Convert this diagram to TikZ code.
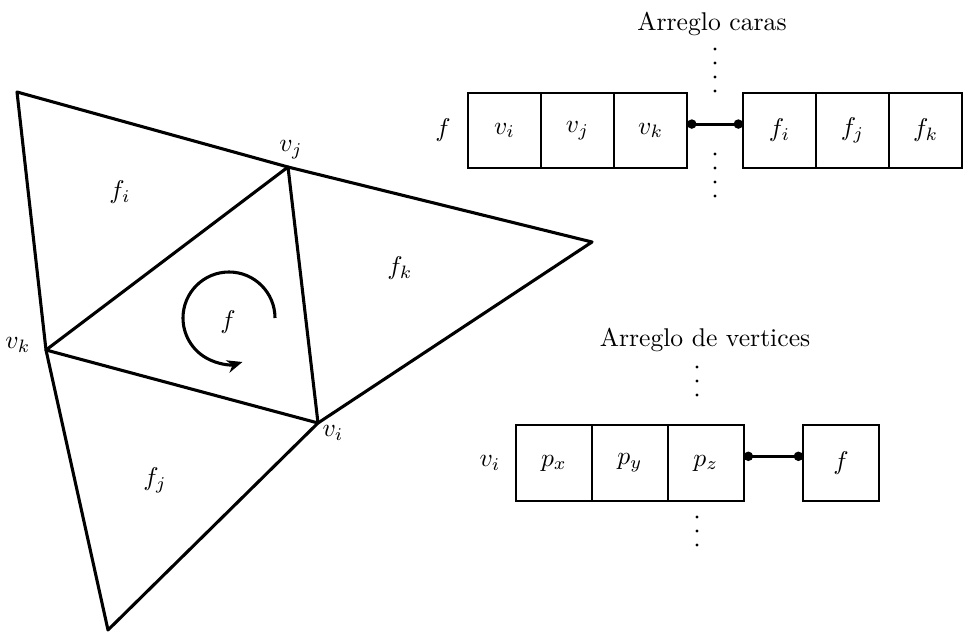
\documentclass[tikz,border=0pt]{standalone}
\usepackage{amsmath}
\usetikzlibrary{positioning,calc,arrows.meta}

\begin{document}
\begin{tikzpicture}[x=0.39pt,y=-0.39pt]
\tikzset{
  edge/.style={draw=black, line width=1.2pt, line join=round},
  cell/.style={draw=black, line width=0.8pt, minimum width=29.6pt, minimum height=29.6pt, inner sep=0pt, outer sep=0pt},
  fcell/.style={cell, minimum width=28.5pt, minimum height=29.3pt},
  link/.style={draw=black, line width=1.2pt, {Circle[length=3.6pt]}-{Circle[length=3.6pt]}},
  dots/.style={draw=black, line width=1.2pt, line cap=round, dash pattern=on 0pt off 5.46pt},
  turn/.style={draw=black, line width=1.2pt, -{Stealth[length=6pt,width=5pt]}}
}
\useasboundingbox (0,0) rectangle (976,637);

% mesh around face f
\coordinate (va) at (17,92);
\coordinate (vj) at (288,167);
\coordinate (vt) at (592,242);
\coordinate (vk) at (46,350);
\coordinate (vi) at (318,423);
\coordinate (vb) at (108,630);
\draw[edge] (va) -- (vj) -- (vt) -- (vi) -- (vb) -- (vk) -- cycle;
\draw[edge] (vk) -- (vj) -- (vi) -- cycle;

\node (lj) at (291,150) {$v_j$};
\node (lk) at (18,345) {$v_k$};
\node (li) at (333,433) {$v_i$};
\node (fi) at (120,192) {$f_i$};
\node (fk) at (400,268) {$f_k$};
\node (fj) at (155,480) {$f_j$};
\node (ff) at (228,322) {$f$};
\draw[turn] ($(ff)+(47,-4)$) arc[start angle=0, end angle=-287, radius=46];

% face array
\node (tcaras) at (712,24) {Arreglo caras};
\node (lf) at (443,130) {$f$};
\node[fcell] (cvi) at (504.5,130.5) {$v_i$};
\node[fcell, right=0pt of cvi] (cvj) {$v_j$};
\node[fcell, right=0pt of cvj] (cvk) {$v_k$};
\node[fcell] (cfi) at (779.5,130.5) {$f_i$};
\node[fcell, right=0pt of cfi] (cfj) {$f_j$};
\node[fcell, right=0pt of cfj] (cfk) {$f_k$};
\draw[link] (cvk.10) -- (cfi.170);
\coordinate (d1) at (715,49);
\coordinate (d2) at (715,91.5);
\coordinate (d3) at (715,154);
\coordinate (d4) at (715,196.5);
\draw[dots] (d1) -- (d2);
\draw[dots] (d3) -- (d4);

% vertex array
\node (tvert) at (705,340) {Arreglo de vertices};
\node (lv) at (490,463) {$v_i$};
\node[cell] (cpx) at (554,463) {$p_x$};
\node[cell, right=0pt of cpx] (cpy) {$p_y$};
\node[cell, right=0pt of cpy] (cpz) {$p_z$};
\node[cell] (cf) at (841,463) {$f$};
\draw[link] (cpz.10) -- (cf.170);
\coordinate (e1) at (697,367);
\coordinate (e2) at (697,409);
\coordinate (e3) at (697,517);
\coordinate (e4) at (697,559);
\draw[dots] (e1) -- (e2);
\draw[dots] (e3) -- (e4);
\end{tikzpicture}
\end{document}
